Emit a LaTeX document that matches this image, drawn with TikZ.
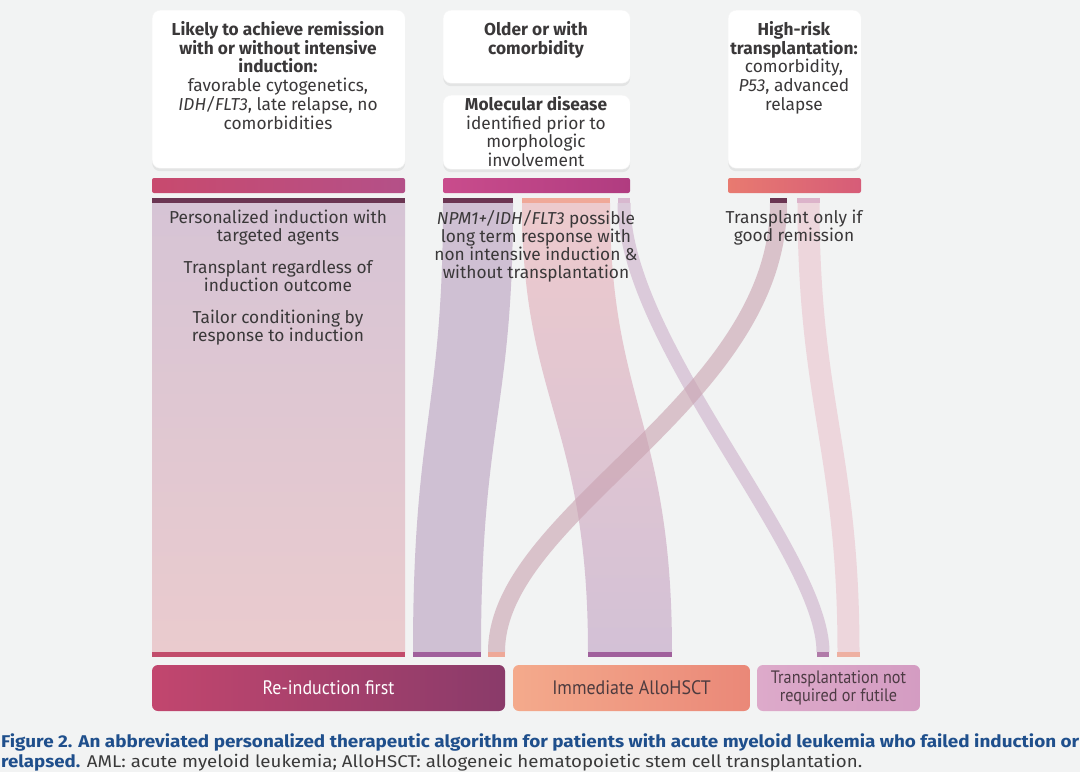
\documentclass[tikz,border=0pt]{standalone}
\usepackage{fontspec}
\usepackage{graphicx}
\setmainfont{Fira Sans}
\newfontfamily\boxfont{PT Sans}
\newfontfamily\capfont{Fira Sans}
\usetikzlibrary{shadows}
\definecolor{bgc}{HTML}{F2F3F3}
\definecolor{txt}{HTML}{3A3839}
\definecolor{capblue}{HTML}{1F4F8C}
\definecolor{capgray}{HTML}{3A3A3A}
\definecolor{darkcap}{HTML}{6B3552}
\definecolor{crim}{HTML}{C24D6C}
\definecolor{purp}{HTML}{A0609C}
\definecolor{salm}{HTML}{EEA898}
\definecolor{lmauve}{HTML}{D8B8CF}
\definecolor{barAl}{HTML}{C84A6E}
\definecolor{barAr}{HTML}{B45088}
\definecolor{barBl}{HTML}{C94C8C}
\definecolor{barBm}{HTML}{E88E8E}
\definecolor{barBr}{HTML}{B03C80}
\definecolor{barCl}{HTML}{E87A70}
\definecolor{barCr}{HTML}{D65C78}
\definecolor{fOneT}{HTML}{D6C4D5}
\definecolor{fOneB}{HTML}{EACBCE}
\definecolor{fA}{HTML}{CFC0D3}
\definecolor{fBT}{HTML}{EDCACD}
\definecolor{fBB}{HTML}{D3C1D6}
\definecolor{fC}{HTML}{D7C3D6}
\definecolor{hE}{HTML}{EDD6DC}
\definecolor{hD}{HTML}{C9A2B0}
\definecolor{capsalm}{HTML}{F0A898}
\definecolor{caplpink}{HTML}{DCB3CA}
\definecolor{botpurp}{HTML}{B07AA8}
\definecolor{botsalm}{HTML}{EEB0A2}
\definecolor{rAl}{HTML}{C2466E}
\definecolor{rAm}{HTML}{A6406C}
\definecolor{rAr}{HTML}{8A3B6A}
\definecolor{rBl}{HTML}{F4AA8C}
\definecolor{rBm}{HTML}{F6B69A}
\definecolor{rBr}{HTML}{EA8878}
\definecolor{rCl}{HTML}{DDAACA}
\definecolor{rCr}{HTML}{D49CC2}
\definecolor{rBt}{HTML}{4D3B3F}
\definecolor{rCt}{HTML}{4D3B44}
\begin{document}
\begin{tikzpicture}[x=1pt,y=-1pt,
  topbox/.style={fill=white, rounded corners=8pt, draw=black!4,
     drop shadow={shadow xshift=0pt, shadow yshift=-3pt, opacity=0.06, fill=black}},
  btxt/.style={text=txt, align=center, inner sep=0pt, font=\fontsize{17.3}{18.8}\selectfont},
  ftxt/.style={text=txt, align=center, inner sep=0pt, font=\fontsize{17.3}{18}\selectfont},
  bottxt/.style={align=center, inner sep=0pt, font=\boxfont\fontsize{19.5}{18}\selectfont},
  thin/.style={line width=#1, line cap=butt},
]
\useasboundingbox (0,0) rectangle (1080,772);
\fill[bgc] (0,0) rectangle (1080,772);

% ---- top boxes
\node[topbox, minimum width=253pt, minimum height=158pt, anchor=north west] (b1) at (152,10) {};
\node[topbox, minimum width=187pt, minimum height=73pt, anchor=north west] (b2) at (443,10) {};
\node[topbox, minimum width=187pt, minimum height=74pt, anchor=north west] (b3) at (443,95) {};
\node[topbox, minimum width=133pt, minimum height=158pt, anchor=north west] (b4) at (728,10) {};

\node[btxt, anchor=north] (t1) at (278,21) {\textbf{Likely to achieve remission}\\\textbf{with or without intensive}\\\textbf{induction:}\\favorable cytogenetics,\\\textit{IDH/FLT3}, late relapse, no\\comorbidities};
\node[btxt, anchor=north] (t2) at (536,21) {\textbf{Older or with}\\\textbf{comorbidity}};
\node[btxt, anchor=north] (t3) at (536,96) {\textbf{Molecular disease}\\identified prior to\\morphologic\\involvement};
\node[btxt, anchor=north] (t4) at (794,21) {\textbf{High-risk}\\\textbf{transplantation:}\\comorbidity,\\\textit{P53}, advanced\\relapse};

% ---- colour bars
\shade[left color=barAl, right color=barAr, rounded corners=2pt] (152,178) rectangle (405,193);
\node[inner sep=0pt, minimum width=253pt, minimum height=15pt, anchor=north west] (bar1) at (152,178) {};
\shade[left color=barBl, middle color=barBm, right color=barBr, rounded corners=2pt] (443,178) rectangle (630,193);
\node[inner sep=0pt, minimum width=187pt, minimum height=15pt, anchor=north west] (bar2) at (443,178) {};
\shade[left color=barCl, right color=barCr, rounded corners=2pt] (728,178) rectangle (861,193);
\node[inner sep=0pt, minimum width=133pt, minimum height=15pt, anchor=north west] (bar3) at (728,178) {};

% ---- flow end points
\coordinate (f1a) at (152,203); \coordinate (f1b) at (405,203);
\coordinate (f1c) at (152,652); \coordinate (f1d) at (405,652);
\coordinate (fAa) at (443,203); \coordinate (fAb) at (513,203);
\coordinate (fAc) at (413,652); \coordinate (fAd) at (481,652);
\coordinate (fBa) at (522,203); \coordinate (fBb) at (610,203);
\coordinate (fBc) at (588,652); \coordinate (fBd) at (672,652);
\coordinate (fCa) at (624,203); \coordinate (fCb) at (823,652);
\coordinate (hDa) at (778.5,203); \coordinate (hDb) at (496.5,652);
\coordinate (hEa) at (808.5,203); \coordinate (hEb) at (848.5,652);

% ---- flows
\shade[top color=fOneT, bottom color=fOneB] (f1a) -- (f1b) -- (f1d) -- (f1c) -- cycle;
\fill[fA] (fAa) .. controls +(0,210) and +(0,-230) .. (fAc) -- (fAd) .. controls +(0,-230) and +(0,210) .. (fAb) -- cycle;
\shade[top color=fBT, bottom color=fBB] (fBa) .. controls +(0,200) and +(0,-230) .. (fBc) -- (fBd) .. controls +(0,-230) and +(0,200) .. (fBb) -- cycle;
\draw[thin=13pt, fC, opacity=0.85] (fCa) .. controls +(0,140) and +(0,-100) .. (fCb);
\draw[thin=22pt, hE] (hEa) .. controls +(0,200) and +(0,-200) .. (hEb);
\draw[thin=17pt, hD, opacity=0.6] (hDa) .. controls +(0,200) and +(0,-140) .. (hDb);

% ---- top caps
\fill[darkcap] (152,198) rectangle (405,203);
\fill[darkcap] (443,198) rectangle (513,203);
\fill[capsalm] (522,198) rectangle (610,203);
\fill[lmauve] (618,198) rectangle (630,203);
\fill[darkcap] (770,198) rectangle (787,203);
\fill[caplpink] (797,198) rectangle (820,203);

% ---- bottom caps
\fill[crim] (152,652) rectangle (405,657);
\fill[purp] (413,652) rectangle (481,657);
\fill[salm] (488,652) rectangle (505,657);
\fill[purp] (588,652) rectangle (672,657);
\fill[botpurp] (817,652) rectangle (829,657);
\fill[botsalm] (837,652) rectangle (860,657);

% ---- flow texts
\node[ftxt, anchor=north] (x1) at (278,210) {Personalized induction with\\targeted agents\\[14pt]Transplant regardless of\\induction outcome\\[14pt]Tailor conditioning by\\response to induction};
\node[ftxt, anchor=north] (x2) at (536,210) {\textit{NPM1+/IDH/FLT3} possible\\long term response with\\non intensive induction \&\\without transplantation};
\node[ftxt, anchor=north] (x3) at (794,210) {Transplant only if\\good remission};

% ---- bottom boxes
\shade[left color=rAl, middle color=rAm, right color=rAr, rounded corners=6pt] (152,665) rectangle (505,711);
\node[bottxt, text=white] (r1) at (328.5,688) {\scalebox{0.92}[1]{Re-induction first}};
\shade[left color=rBl, middle color=rBm, right color=rBr, rounded corners=6pt] (513,665) rectangle (750,711);
\node[bottxt, text=rBt] (r2) at (631.5,688) {\scalebox{0.92}[1]{Immediate AlloHSCT}};
\shade[left color=rCl, right color=rCr, rounded corners=6pt] (757,665) rectangle (920,711);
\node[bottxt, text=rCt, font=\boxfont\fontsize{18}{18}\selectfont] (r3) at (838.5,688) {\scalebox{0.9}[1]{Transplantation not}\\\scalebox{0.9}[1]{required or futile}};

% ---- caption
\node[anchor=base west, inner sep=0pt, font=\capfont\fontsize{17}{19}\selectfont] (cap1) at (1,747)
  {\resizebox{1078pt}{\height}{\textcolor{capblue}{\bfseries Figure 2. An abbreviated personalized therapeutic algorithm for patients with acute myeloid leukemia who failed induction or}}};
\node[anchor=base west, inner sep=0pt, font=\capfont\fontsize{17}{19}\selectfont] (cap2) at (1,767)
  {\resizebox{861pt}{\height}{\textcolor{capblue}{\bfseries relapsed.} \textcolor{capgray}{AML: acute myeloid leukemia; AlloHSCT: allogeneic hematopoietic stem cell transplantation.}}};
\end{tikzpicture}
\end{document}
